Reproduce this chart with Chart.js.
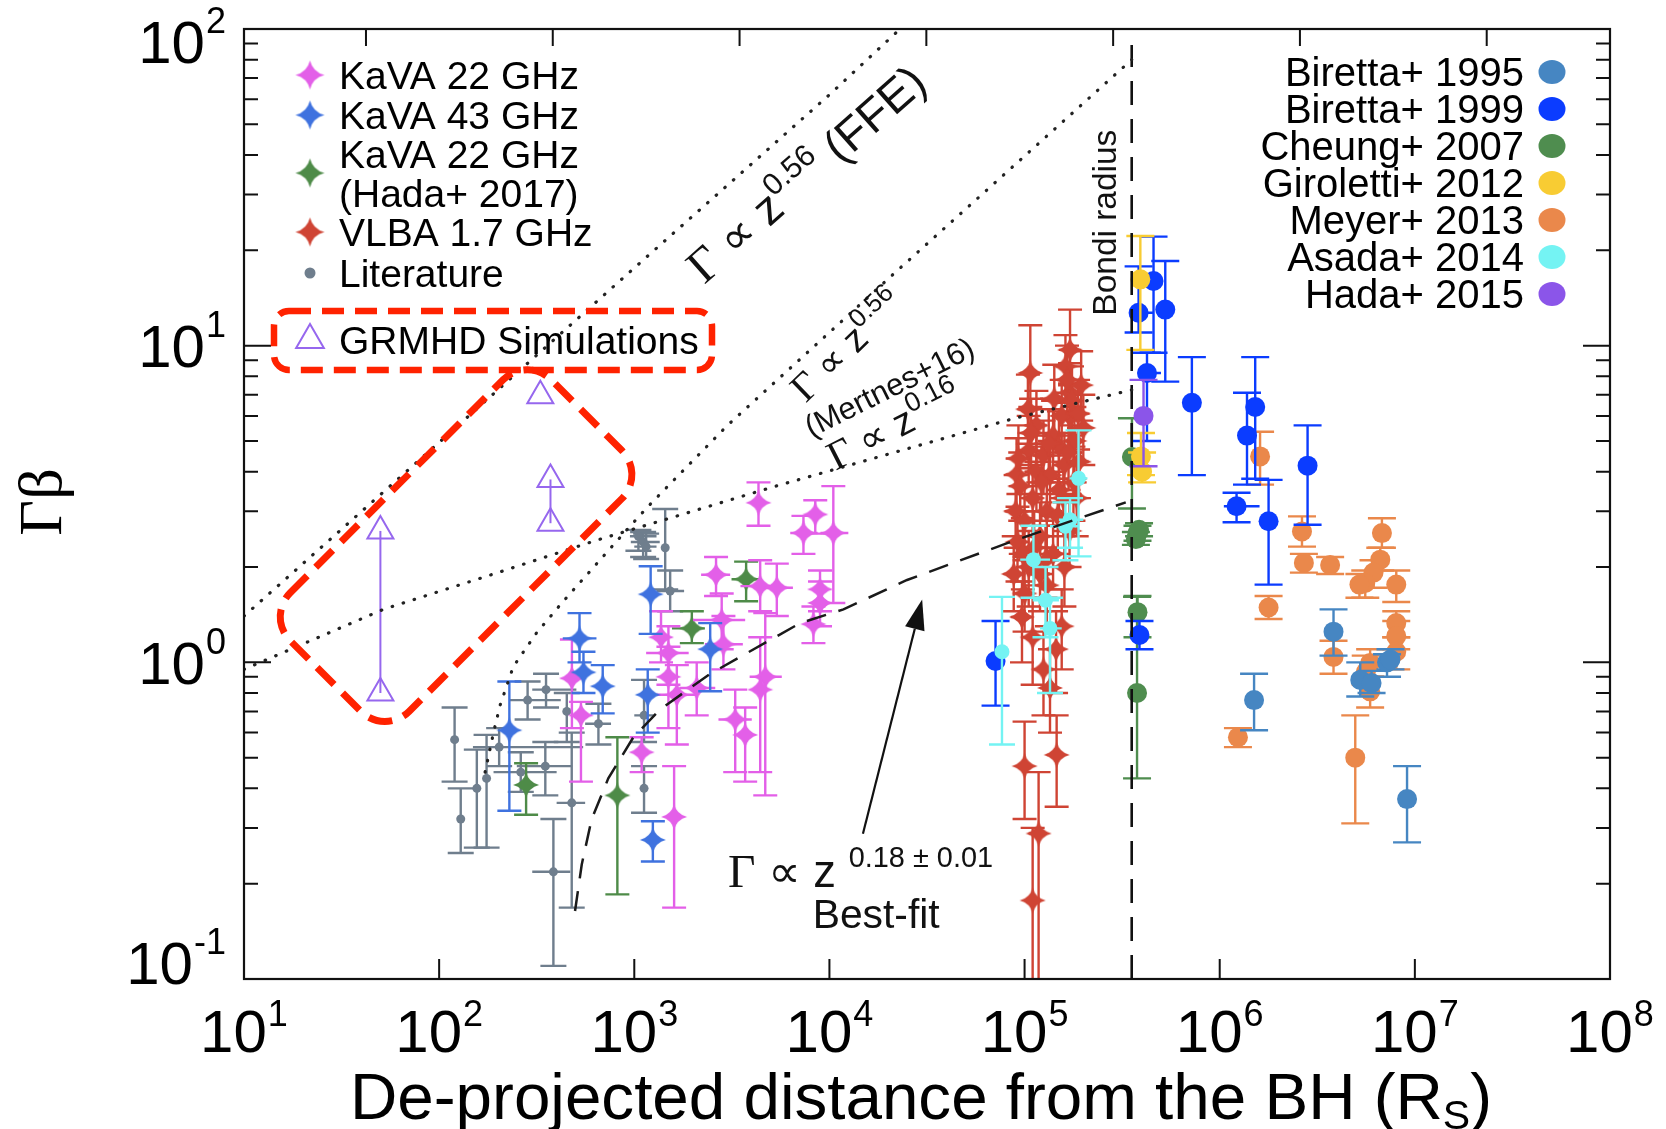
<!DOCTYPE html>
<html>
<head>
<meta charset="utf-8">
<title>Gamma-beta vs de-projected distance</title>
<script src="https://cdn.jsdelivr.net/npm/chart.js@4.4.1/dist/chart.umd.min.js"></script>
<style>
html,body{margin:0;padding:0;background:#ffffff;overflow:hidden;}
canvas{display:block;}
</style>
</head>
<body>
<canvas id="chart" width="1666" height="1129"></canvas>
<script>
// ---------------- tick labels ----------------
const xTickValues = [10, 100, 1e3, 1e4, 1e5, 1e6, 1e7, 1e8];
const xTickExps   = ['1', '2', '3', '4', '5', '6', '7', '8'];
const yTickValues = [0.1, 1, 10, 100];
const yTickExps   = ['-1', '0', '1', '2'];
const topTickValues = [10, 100, 1e3, 1e4, 1e5, 1e6, 1e7];

// ---------------- Literature (grey dots) ----------------
const litZ   = [120, 129, 156, 175, 203, 262, 284, 353, 350, 385, 451, 478, 655, 1050, 1110, 1150, 1440, 1527, 1122, 1122];
const litG   = [0.57, 0.32, 0.40, 0.43, 0.54, 0.45, 0.76, 0.82, 0.47, 0.218, 0.70, 0.36, 0.64, 2.50, 2.40, 2.32, 2.30, 1.68, 0.68, 0.40];
const litGlo = [0.42, 0.25, 0.26, 0.26, 0.47, 0.39, 0.66, 0.72, 0.38, 0.11, 0.56, 0.168, 0.55, 2.25, 2.15, 2.12, 1.70, 1.45, 0.56, 0.335];
const litGhi = [0.72, 0.40, 0.53, 0.59, 0.62, 0.52, 0.87, 0.92, 0.56, 0.32, 0.80, 0.60, 0.74, 2.62, 2.58, 2.55, 3.05, 1.95, 0.88, 0.47];
const litZlo = [120, 129, 156, 175, 149, 190, 230, 300, 250, 300, 451, 400, 560, 950, 960, 1000, 1440, 1300, 1000, 1122];
const litZhi = [120, 129, 156, 175, 547, 400, 420, 505, 480, 470, 451, 560, 760, 1300, 1350, 1300, 1440, 1800, 1260, 1122];

// ---------------- KaVA 43 GHz (blue stars) ----------------
const k43Z   = [229, 524, 549, 689, 1213, 1172, 1245, 2449];
const k43G   = [0.61, 1.19, 0.93, 0.84, 1.64, 0.79, 0.275, 1.10];
const k43Glo = [0.34, 1.00, 0.80, 0.69, 1.23, 0.60, 0.235, 0.81];
const k43Ghi = [0.87, 1.43, 1.08, 0.98, 2.01, 0.95, 0.315, 1.33];
const k43Zlo = [229, 430, 549, 689, 1213, 1172, 1245, 2449];
const k43Zhi = [229, 640, 549, 689, 1213, 1172, 1245, 2449];

// ---------------- KaVA 22 GHz, Hada+ 2017 (green stars) ----------------
const h17Z   = [279, 819, 1972, 3742];
const h17G   = [0.41, 0.38, 1.28, 1.83];
const h17Glo = [0.33, 0.185, 1.15, 1.56];
const h17Ghi = [0.48, 0.58, 1.45, 2.08];
const h17Zlo = [279, 819, 1560, 3150];
const h17Zhi = [279, 819, 2300, 4500];

// ---------------- KaVA 22 GHz (magenta stars) ----------------
const k22Z   = [479, 533, 1091, 1496, 1496, 1652, 1600, 2089, 2624, 2805, 2863, 3290, 3700, 4417, 5375, 4690, 4330, 8460, 7360, 10470, 8950, 8950, 8280, 4418, 1371];
const k22G   = [0.89, 0.68, 0.52, 1.07, 0.90, 0.79, 0.325, 0.83, 1.89, 1.36, 1.14, 0.66, 0.59, 1.74, 1.72, 0.90, 3.19, 2.93, 2.56, 2.56, 1.70, 1.54, 1.32, 0.82, 1.20];
const k22Glo = [0.62, 0.42, 0.45, 0.85, 0.62, 0.55, 0.168, 0.68, 1.62, 1.10, 0.95, 0.45, 0.42, 1.45, 1.40, 0.38, 2.70, 2.55, 2.20, 1.54, 1.45, 1.30, 1.15, 0.45, 1.00];
const k22Ghi = [1.18, 0.75, 0.58, 1.30, 1.12, 0.98, 0.47, 1.00, 2.15, 1.65, 1.40, 0.82, 0.72, 2.10, 2.05, 1.43, 3.70, 3.25, 2.90, 3.60, 1.95, 1.80, 1.50, 1.20, 1.45];
const k22Zlo = [479, 533, 1091, 1150, 1496, 1300, 1600, 1700, 2200, 2000, 2300, 2700, 3700, 3500, 4500, 3900, 4330, 8460, 6300, 9000, 8950, 8950, 8280, 4418, 1371];
const k22Zhi = [479, 533, 1091, 1900, 1496, 2100, 1600, 2600, 3100, 3700, 3600, 4000, 3700, 5500, 6500, 5700, 4330, 8460, 8700, 12500, 8950, 8950, 8280, 4418, 1371];

// ---------------- VLBA 1.7 GHz (red stars) ----------------
const vlbaZ   = [1.07e5, 1.71e5, 1.71e5, 1.05e5, 9.1e4, 1.71e5, 9.7e4, 1.0e5, 1.35e5, 1.46e5, 1.18e5, 1.1e5, 1.05e5, 1.2e5, 1.3e5, 1.5e5, 1.6e5, 1.8e5, 9.0e4, 9.5e4, 1.0e5, 1.1e5, 1.15e5, 1.25e5, 1.4e5, 1.55e5, 1.75e5, 1.95e5, 2.0e5, 1.9e5, 1.85e5, 1.7e5, 1.4e5, 1.2e5, 9.2e4, 8.8e4, 1.0e5, 1.3e5, 1.6e5, 1.55e5, 1.45e5, 1.1e5, 1.25e5, 1.62e5, 1.5e5, 1.04e5, 1.35e5, 1.15e5,
                 9.3e4, 1.08e5, 1.22e5, 1.33e5, 1.48e5, 1.58e5, 1.68e5, 1.78e5, 1.12e5, 1.28e5, 9.8e4, 1.42e5, 1.65e5, 1.88e5];
const vlbaG   = [8.2, 9.7, 7.1, 4.66, 3.92, 5.95, 1.39, 0.47, 0.83, 0.51, 0.288, 0.177, 2.0, 2.5, 3.0, 3.5, 4.2, 5.0, 3.0, 3.6, 2.8, 3.3, 4.0, 4.5, 5.2, 6.0, 6.7, 7.5, 5.5, 4.3, 3.3, 2.6, 2.2, 1.9, 2.4, 1.9, 1.65, 1.75, 2.0, 1.3, 1.1, 1.2, 0.95, 8.6, 4.8, 6.3, 3.9, 5.6,
                 4.4, 5.3, 3.7, 4.9, 2.9, 3.3, 4.6, 3.7, 2.3, 2.1, 2.2, 6.8, 7.8, 6.1];
const vlbaGlo = [6.4, 7.5, 5.6, 3.6, 3.0, 4.6, 1.0, 0.32, 0.6, 0.35, 0.08, 0.05, 1.5, 1.9, 2.3, 2.7, 3.2, 3.8, 2.3, 2.8, 2.1, 2.5, 3.0, 3.4, 4.0, 4.6, 5.2, 5.8, 4.2, 3.3, 2.5, 2.0, 1.7, 1.45, 1.8, 1.45, 1.25, 1.3, 1.5, 0.95, 0.8, 0.85, 0.68, 6.6, 3.7, 4.9, 3.0, 4.3,
                 3.4, 4.1, 2.8, 3.8, 2.2, 2.5, 3.5, 2.8, 1.75, 1.6, 1.7, 5.3, 6.0, 4.7];
const vlbaGhi = [11.6, 13.0, 8.8, 6.0, 5.1, 7.6, 1.8, 0.65, 1.1, 0.68, 0.45, 0.30, 2.6, 3.2, 3.8, 4.5, 5.3, 6.4, 3.9, 4.6, 3.6, 4.2, 5.2, 5.8, 6.7, 7.8, 8.6, 9.6, 7.0, 5.5, 4.3, 3.4, 2.9, 2.5, 3.1, 2.5, 2.15, 2.3, 2.6, 1.7, 1.45, 1.6, 1.25, 10.8, 6.2, 8.1, 5.0, 7.2,
                 5.6, 6.8, 4.8, 6.3, 3.8, 4.3, 5.9, 4.8, 3.0, 2.7, 2.85, 8.7, 10.0, 7.8];
const vlbaZlo = [9.5e4, 1.5e5, 1.45e5, 9.0e4, 8.0e4, 1.5e5, 8.5e4, 9.0e4, 1.2e5, 1.3e5, 1.05e5, 1.0e5, 9.0e4, 1.05e5, 1.15e5, 1.3e5, 1.4e5, 1.6e5, 8.0e4, 8.3e4, 8.8e4, 9.6e4, 1.0e5, 1.1e5, 1.25e5, 1.4e5, 1.6e5, 1.8e5, 1.8e5, 1.7e5, 1.65e5, 1.5e5, 1.2e5, 1.05e5, 8.2e4, 7.8e4, 8.8e4, 1.15e5, 1.4e5, 1.4e5, 1.3e5, 9.8e4, 1.1e5, 1.45e5, 1.3e5, 9.2e4, 1.2e5, 1.0e5,
                 8.0e4, 9.2e4, 1.02e5, 1.12e5, 1.25e5, 1.35e5, 1.42e5, 1.5e5, 9.4e4, 1.08e5, 8.3e4, 1.2e5, 1.4e5, 1.6e5];
const vlbaZhi = [1.2e5, 1.95e5, 2.0e5, 1.25e5, 1.05e5, 1.95e5, 1.1e5, 1.1e5, 1.5e5, 1.6e5, 1.3e5, 1.2e5, 1.2e5, 1.35e5, 1.45e5, 1.7e5, 1.8e5, 2.0e5, 1.0e5, 1.08e5, 1.12e5, 1.25e5, 1.3e5, 1.4e5, 1.55e5, 1.7e5, 1.9e5, 2.1e5, 2.1e5, 2.1e5, 2.05e5, 1.9e5, 1.6e5, 1.35e5, 1.05e5, 1.0e5, 1.12e5, 1.45e5, 1.8e5, 1.7e5, 1.6e5, 1.25e5, 1.4e5, 1.8e5, 1.7e5, 1.18e5, 1.5e5, 1.3e5,
                 1.08e5, 1.26e5, 1.45e5, 1.58e5, 1.75e5, 1.85e5, 1.98e5, 2.08e5, 1.33e5, 1.5e5, 1.15e5, 1.68e5, 1.95e5, 2.15e5];

// ---------------- Asada+ 2014 (cyan) ----------------
const asaZ   = [7.66e4, 1.11e5, 1.28e5, 1.35e5, 1.62e5, 1.71e5, 1.89e5];
const asaG   = [1.08, 2.11, 1.57, 1.28, 2.69, 2.82, 3.81];
const asaGlo = [0.55, 1.6, 1.2, 0.8, 2.1, 2.3, 2.16];
const asaGhi = [1.61, 2.7, 2.0, 1.6, 3.2, 3.3, 5.4];
const asaZlo = [7.66e4, 9.5e4, 1.1e5, 1.2e5, 1.35e5, 1.5e5, 1.7e5];
const asaZhi = [7.66e4, 1.35e5, 1.5e5, 1.55e5, 1.9e5, 2.0e5, 2.1e5];

// ---------------- Biretta+ 1999 (blue) ----------------
const b99Z   = [7.1e4, 4.58e5, 3.84e5, 5.26e5, 4.24e5, 7.2e5, 1.52e6, 1.38e6, 1.22e6, 1.78e6, 2.82e6, 3.88e5];
const b99G   = [1.01, 16.0, 12.7, 13.0, 8.2, 6.6, 6.4, 5.2, 3.11, 2.79, 4.18, 1.22];
const b99Glo = [0.73, 9.5, 11.0, 7.7, 5.0, 3.9, 3.8, 3.64, 2.77, 1.76, 2.72, 1.10];
const b99Ghi = [1.35, 22.1, 17.8, 18.5, 9.5, 9.2, 9.2, 7.1, 3.43, 3.77, 5.6, 1.35];
const b99Zlo = [7.1e4, 4.58e5, 3.5e5, 5.26e5, 3.9e5, 7.2e5, 1.52e6, 1.38e6, 1.05e6, 1.78e6, 2.82e6, 3.6e5];
const b99Zhi = [7.1e4, 4.58e5, 4.6e5, 5.26e5, 5.0e5, 7.2e5, 1.52e6, 1.38e6, 1.6e6, 1.78e6, 2.82e6, 4.3e5];

// ---------------- Biretta+ 1995 (steel blue) ----------------
const b95Z   = [1.5e6, 3.83e6, 5.25e6, 7.2e6, 9.12e6, 6.0e6, 7.5e6];
const b95G   = [0.76, 1.25, 0.88, 1.0, 0.37, 0.86, 1.02];
const b95Glo = [0.61, 1.05, 0.78, 0.90, 0.27, 0.80, 0.95];
const b95Ghi = [0.92, 1.47, 1.0, 1.06, 0.47, 0.94, 1.10];

// ---------------- Cheung+ 2007 (green) ----------------
const cheZ   = [3.79e5, 3.72e5, 3.86e5, 3.79e5, 3.77e5, 3.55e5];
const cheG   = [2.56, 2.45, 2.62, 1.44, 0.80, 4.45];
const cheGlo = [2.42, 2.35, 2.5, 1.2, 0.43, 3.06];
const cheGhi = [2.70, 2.58, 2.75, 1.62, 1.61, 5.9];

// ---------------- Giroletti+ 2012 (yellow) ----------------
const girZ   = [3.92e5, 3.95e5, 4.0e5];
const girG   = [16.2, 4.47, 4.0];
const girGlo = [9.7, 3.9, 3.7];
const girGhi = [22.2, 5.3, 4.6];

// ---------------- Meyer+ 2013 (orange) ----------------
const meyZ   = [1.61e6, 1.78e6, 2.64e6, 2.7e6, 3.68e6, 3.83e6, 1.24e6, 6.78e6, 6.65e6, 6.14e6, 5.57e6, 5.2e6, 8.03e6, 8.03e6, 8.03e6, 8.03e6, 5.9e6, 5.6e6, 5.9e6, 4.95e6];
const meyG   = [4.47, 1.49, 2.59, 2.06, 2.03, 1.04, 0.58, 2.56, 2.11, 1.92, 1.78, 1.76, 1.76, 1.33, 1.21, 1.08, 0.995, 0.93, 0.81, 0.50];
const meyGlo = [3.64, 1.37, 2.32, 1.92, 1.9, 0.92, 0.54, 2.3, 1.95, 1.72, 1.6, 1.6, 1.55, 1.2, 1.1, 0.95, 0.9, 0.85, 0.72, 0.31];
const meyGhi = [5.35, 1.62, 2.89, 2.2, 2.15, 1.17, 0.62, 2.85, 2.3, 2.1, 1.95, 1.9, 1.95, 1.45, 1.35, 1.2, 1.1, 1.05, 0.9, 0.68];

// ---------------- Hada+ 2015 (purple) ----------------
const h15Z   = [4.07e5];
const h15G   = [6.0];
const h15Glo = [4.16];
const h15Ghi = [7.8];

// ---------------- GRMHD simulations (open triangles) ----------------
const grmZ = [50, 50, 330, 372, 372];
const grmG = [2.6, 0.80, 6.95, 3.78, 2.75];
const grmLinkAZ = [50, 50];
const grmLinkAG = [0.80, 2.6];
const grmLinkBZ = [372, 372];
const grmLinkBG = [2.75, 3.78];

// ---------------- reference curves ----------------
const ffeZ = [10, 100, 1000, 10000, 23000];
const ffeG = [1.40, 4.95, 17.6, 62, 100];
const merZ = [172, 190, 205, 240, 316, 433, 951, 1178, 3000, 21200, 354000];
const merG = [0.45, 0.60, 0.73, 0.97, 1.24, 1.56, 2.69, 3.11, 5.6, 16.8, 80];
const p16Z = [10, 51.8, 200, 655, 5224, 24270, 89900, 354000];
const p16G = [0.95, 1.47, 1.92, 2.44, 3.59, 4.70, 5.91, 7.25];
const fitZ = [497, 538, 605, 736, 989, 1356, 2449, 7080, 11800, 25000, 89500, 330000];
const fitG = [0.164, 0.23, 0.32, 0.43, 0.58, 0.71, 0.92, 1.33, 1.47, 1.82, 2.43, 3.2];
const bondiZ = [354000, 354000];
const bondiG = [0.1, 89];

// ---------------- styling ----------------
const C = {
  mag: '#e35fe8', blu43: '#3f72df', grn17: '#4e8b48', red: '#cf4434', gray: '#6f7e8d', purp: '#9667ee',
  b95: '#4686c2', b99: '#0b3cff', che: '#4f8d4f', gir: '#f8cc33', mey: '#ea884b', asa: '#74f3f3', h15: '#8b55e9',
  box: '#ff2200'
};
const SANS = '"Liberation Sans", Arial, Helvetica, "DejaVu Sans", sans-serif';
const SERIF = '"Liberation Serif", "Times New Roman", "DejaVu Serif", serif';

function starCanvas(color, R) {
  const s = Math.ceil(R * 2 + 4);
  const c = document.createElement('canvas');
  c.width = s; c.height = s;
  const g = c.getContext('2d');
  const cx = s / 2, cy = s / 2, k = R * 0.2;
  g.fillStyle = color;
  g.beginPath();
  g.moveTo(cx, cy - R);
  g.quadraticCurveTo(cx + k, cy - k, cx + R, cy);
  g.quadraticCurveTo(cx + k, cy + k, cx, cy + R);
  g.quadraticCurveTo(cx - k, cy + k, cx - R, cy);
  g.quadraticCurveTo(cx - k, cy - k, cx, cy - R);
  g.closePath();
  g.fill();
  return c;
}
const STAR = {
  mag: starCanvas(C.mag, 13), blu43: starCanvas(C.blu43, 13), grn17: starCanvas(C.grn17, 13), red: starCanvas(C.red, 13)
};
const LSTAR = {
  mag: starCanvas(C.mag, 14.5), blu43: starCanvas(C.blu43, 14.5), grn17: starCanvas(C.grn17, 14.5), red: starCanvas(C.red, 14.5)
};

function pts(z, g, glo, ghi, zlo, zhi) {
  return z.map((v, i) => ({
    x: v, y: g[i],
    yMin: glo ? glo[i] : undefined, yMax: ghi ? ghi[i] : undefined,
    xMin: zlo ? zlo[i] : undefined, xMax: zhi ? zhi[i] : undefined
  }));
}
function curve(z, g) { return z.map((v, i) => ({ x: v, y: g[i] })); }

function starSet(label, data, key, order) {
  return { label, data, pointStyle: STAR[key], pointRadius: 13, showLine: false, order,
           err: { color: C[key], cap: 12, w: 2.4 } };
}
function dotSet(label, data, color, r, order, cap) {
  return { label, data, pointStyle: 'circle', pointRadius: r, pointBackgroundColor: color, pointBorderWidth: 0,
           showLine: false, order, err: { color, cap: cap || 14, w: 2.4 } };
}
function lineSet(label, data, color, width, dash, cap, order) {
  return { label, data, showLine: true, borderColor: color, borderWidth: width, borderDash: dash,
           borderCapStyle: cap, pointRadius: 0, fill: false, tension: 0, order };
}

const datasets = [
  lineSet('FFE', curve(ffeZ, ffeG), '#222222', 3.2, [0.5, 11], 'round', -1),
  lineSet('Mertens+16', curve(merZ, merG), '#222222', 3.2, [0.5, 11], 'round', -1),
  lineSet('z^0.16', curve(p16Z, p16G), '#222222', 3.2, [0.5, 11], 'round', -1),
  lineSet('Best-fit', curve(fitZ, fitG), '#1a1a1a', 2.5, [20, 13], 'butt', -1),
  lineSet('Bondi radius', curve(bondiZ, bondiG), '#111111', 2.6, [24, 14], 'butt', -1),
  lineSet('GRMHD link A', curve(grmLinkAZ, grmLinkAG), C.purp, 2, [], 'butt', 14),
  lineSet('GRMHD link B', curve(grmLinkBZ, grmLinkBG), C.purp, 2, [], 'butt', 14),
  { label: 'GRMHD Simulations', data: curve(grmZ, grmG), pointStyle: 'triangle', pointRadius: 15,
    pointBackgroundColor: 'rgba(0,0,0,0)', pointBorderColor: C.purp, pointBorderWidth: 2, showLine: false, order: 13 },
  dotSet('Asada+ 2014', pts(asaZ, asaG, asaGlo, asaGhi, asaZlo, asaZhi), C.asa, 7.5, 1, 13),
  dotSet('Hada+ 2015', pts(h15Z, h15G, h15Glo, h15Ghi), C.h15, 10, 2),
  dotSet('Giroletti+ 2012', pts(girZ, girG, girGlo, girGhi), C.gir, 10, 3),
  dotSet('Biretta+ 1999', pts(b99Z, b99G, b99Glo, b99Ghi, b99Zlo, b99Zhi), C.b99, 10, 4),
  dotSet('Cheung+ 2007', pts(cheZ, cheG, cheGlo, cheGhi), C.che, 10, 5),
  dotSet('Biretta+ 1995', pts(b95Z, b95G, b95Glo, b95Ghi), C.b95, 10, 6),
  dotSet('Meyer+ 2013', pts(meyZ, meyG, meyGlo, meyGhi), C.mey, 10, 7),
  starSet('VLBA 1.7 GHz', pts(vlbaZ, vlbaG, vlbaGlo, vlbaGhi, vlbaZlo, vlbaZhi), 'red', 8),
  starSet('KaVA 43 GHz', pts(k43Z, k43G, k43Glo, k43Ghi, k43Zlo, k43Zhi), 'blu43', 9),
  starSet('KaVA 22 GHz', pts(k22Z, k22G, k22Glo, k22Ghi, k22Zlo, k22Zhi), 'mag', 10),
  starSet('KaVA 22 GHz (Hada+ 2017)', pts(h17Z, h17G, h17Glo, h17Ghi, h17Zlo, h17Zhi), 'grn17', 11),
  dotSet('Literature', pts(litZ, litG, litGlo, litGhi, litZlo, litZhi), C.gray, 4.5, 12, 13)
];

// ---------------- error bars ----------------
const errorBarPlugin = {
  id: 'errorBars',
  beforeDatasetDraw(chart, args) {
    const ds = chart.data.datasets[args.index];
    if (!ds.err) return;
    const { ctx, chartArea: a } = chart;
    const xs = chart.scales.x, ys = chart.scales.y;
    ctx.save();
    ctx.beginPath();
    ctx.rect(a.left, a.top, a.right - a.left, a.bottom - a.top);
    ctx.clip();
    ctx.strokeStyle = ds.err.color;
    ctx.lineWidth = ds.err.w;
    const cap = ds.err.cap;
    ds.data.forEach(p => {
      const px = xs.getPixelForValue(p.x), py = ys.getPixelForValue(p.y);
      ctx.beginPath();
      if (p.yMin !== undefined && p.yMax !== undefined && p.yMin !== p.yMax) {
        const y1 = ys.getPixelForValue(p.yMin), y2 = ys.getPixelForValue(p.yMax);
        ctx.moveTo(px, y1); ctx.lineTo(px, y2);
        ctx.moveTo(px - cap, y1); ctx.lineTo(px + cap, y1);
        ctx.moveTo(px - cap, y2); ctx.lineTo(px + cap, y2);
      }
      if (p.xMin !== undefined && p.xMax !== undefined && p.xMin !== p.xMax) {
        const x1 = xs.getPixelForValue(p.xMin), x2 = xs.getPixelForValue(p.xMax);
        ctx.moveTo(x1, py); ctx.lineTo(x2, py);
      }
      ctx.stroke();
    });
    ctx.restore();
  }
};

// ---------------- annotations (anchored in data space) ----------------
const notes = {
  ffe:    { z: 7597,  g: 34.9, angle: -41.5, width: 300 },
  mer:    { z: 12320, g: 10.0, angle: -44,   width: 140 },
  merRef: { z: 20230, g: 7.42, angle: -26.5, width: 185 },
  p16:    { z: 21460, g: 5.59, angle: -27,   width: 145 },
  fit:    { z: 3026,  g: 0.1957, width: 265 },
  fitLbl: { z: 17360, g: 0.1453, width: 127 },
  bondi:  { z: 257300, g: 24.46, width: 186 },
  arrowFrom: { z: 14850, g: 0.2877 },
  arrowTo:   { z: 29870, g: 1.578 },
  simBox: { z: 122.1, g: 2.336, w: 369, h: 168, r: 34, angle: -45 }
};

function richWidth(ctx, segs) {
  let w = 0;
  for (const s of segs) { ctx.font = s.f; w += ctx.measureText(s.t).width; }
  return w;
}
function drawRich(ctx, segs, x, y, angle, align, target, baseShift) {
  ctx.save();
  ctx.translate(x, y);
  ctx.rotate(angle * Math.PI / 180);
  const w = richWidth(ctx, segs);
  const k = target ? target / w : 1;
  ctx.scale(k, k);
  let cx = align === 'center' ? -w / 2 : (align === 'right' ? -w : 0);
  ctx.textAlign = 'left';
  ctx.textBaseline = 'alphabetic';
  for (const s of segs) {
    ctx.font = s.f;
    ctx.fillText(s.t, cx, (s.dy || 0) + (baseShift || 0));
    cx += ctx.measureText(s.t).width;
  }
  ctx.restore();
}
function roundRectPath(ctx, x, y, w, h, r) {
  ctx.beginPath();
  ctx.moveTo(x + r, y);
  ctx.lineTo(x + w - r, y);
  ctx.arcTo(x + w, y, x + w, y + r, r);
  ctx.lineTo(x + w, y + h - r);
  ctx.arcTo(x + w, y + h, x + w - r, y + h, r);
  ctx.lineTo(x + r, y + h);
  ctx.arcTo(x, y + h, x, y + h - r, r);
  ctx.lineTo(x, y + r);
  ctx.arcTo(x, y, x + r, y, r);
  ctx.closePath();
}
function drawPow(ctx, exp, x, baseY, supY, align) {
  ctx.font = '60px ' + SANS;
  const w1 = ctx.measureText('10').width;
  ctx.font = '36px ' + SANS;
  const w2 = ctx.measureText(exp).width;
  const total = w1 + w2 + 1;
  const sx = align === 'center' ? x - total / 2 : x - total;
  ctx.textAlign = 'left';
  ctx.textBaseline = 'alphabetic';
  ctx.font = '60px ' + SANS;
  ctx.fillText('10', sx, baseY);
  ctx.font = '36px ' + SANS;
  ctx.fillText(exp, sx + w1 + 1, supY);
}

const leftLegend = [
  { mk: 'mag', y: 75, lines: ['KaVA 22 GHz'] },
  { mk: 'blu43', y: 115, lines: ['KaVA 43 GHz'] },
  { mk: 'grn17', y: 173, lines: ['KaVA 22 GHz', '(Hada+ 2017)'], lineY: [154, 193] },
  { mk: 'red', y: 232, lines: ['VLBA 1.7 GHz'] },
  { mk: 'lit', y: 273, lines: ['Literature'] },
  { mk: 'tri', y: 340, lines: ['GRMHD Simulations'] }
];
const rightLegend = [
  { c: C.b95, y: 72, t: 'Biretta+ 1995' },
  { c: C.b99, y: 109, t: 'Biretta+ 1999' },
  { c: C.che, y: 146, t: 'Cheung+ 2007' },
  { c: C.gir, y: 183, t: 'Giroletti+ 2012' },
  { c: C.mey, y: 220, t: 'Meyer+ 2013' },
  { c: C.asa, y: 257, t: 'Asada+ 2014' },
  { c: C.h15, y: 294, t: 'Hada+ 2015' }
];

const decoPlugin = {
  id: 'deco',
  afterDraw(chart) {
    const { ctx, chartArea: a } = chart;
    const xs = chart.scales.x, ys = chart.scales.y, xt = chart.scales.xTop;
    const P = (z, g) => [xs.getPixelForValue(z), ys.getPixelForValue(g)];
    ctx.save();
    ctx.fillStyle = '#000';
    ctx.strokeStyle = '#111';

    // frame
    ctx.lineWidth = 2.2;
    ctx.strokeRect(a.left, a.top, a.right - a.left, a.bottom - a.top);

    // y ticks (left & right), majors and minors
    ctx.lineWidth = 2;
    ctx.beginPath();
    for (let e = -1; e <= 1; e++) {
      for (let m = 1; m <= 9; m++) {
        const v = m * Math.pow(10, e);
        const py = ys.getPixelForValue(v);
        const len = m === 1 ? 27 : 14;
        ctx.moveTo(a.left, py); ctx.lineTo(a.left + len, py);
        ctx.moveTo(a.right, py); ctx.lineTo(a.right - len, py);
      }
    }
    // bottom majors
    xTickValues.forEach(v => {
      const px = xs.getPixelForValue(v);
      if (px <= a.left + 1 || px >= a.right - 1) return;
      ctx.moveTo(px, a.bottom); ctx.lineTo(px, a.bottom - 20);
    });
    // top majors (top axis is offset)
    topTickValues.forEach(v => {
      const px = xt.getPixelForValue(v);
      if (px <= a.left + 1 || px >= a.right - 1) return;
      ctx.moveTo(px, a.top); ctx.lineTo(px, a.top + 17);
    });
    ctx.stroke();

    // tick labels
    ctx.fillStyle = '#000';
    yTickValues.forEach((v, i) => {
      let cy = ys.getPixelForValue(v);
      cy = Math.min(Math.max(cy, a.top + 12), a.bottom - 17);
      drawPow(ctx, yTickExps[i], a.left - 18, cy + 21.5, cy - 8.5, 'right');
    });
    xTickValues.forEach((v, i) => {
      const cx = xs.getPixelForValue(v);
      drawPow(ctx, xTickExps[i], cx, a.bottom + 73, a.bottom + 47, 'center');
    });

    // axis titles
    const tSegs = [
      { t: 'De-projected distance from the BH (R', f: '64px ' + SANS },
      { t: 'S', f: '40px ' + SANS, dy: 10 },
      { t: ')', f: '64px ' + SANS }
    ];
    drawRich(ctx, tSegs, (a.left + a.right) / 2 - 6, 1119, 0, 'center', 1142);
    ctx.save();
    ctx.translate(45, 502);
    ctx.rotate(-Math.PI / 2);
    ctx.font = '62px ' + SERIF;
    ctx.textAlign = 'center';
    ctx.textBaseline = 'middle';
    ctx.fillText('Γβ', 0, 0);
    ctx.restore();

    // left legend
    ctx.textAlign = 'left';
    ctx.textBaseline = 'alphabetic';
    leftLegend.forEach(it => {
      const mx = 310;
      if (LSTAR[it.mk]) {
        const im = LSTAR[it.mk];
        ctx.drawImage(im, mx - im.width / 2, it.y - im.height / 2);
      } else if (it.mk === 'lit') {
        ctx.fillStyle = C.gray;
        ctx.beginPath(); ctx.arc(mx, it.y, 5.5, 0, Math.PI * 2); ctx.fill();
      } else if (it.mk === 'tri') {
        ctx.strokeStyle = C.purp; ctx.lineWidth = 2;
        const r = 16;
        ctx.beginPath();
        ctx.moveTo(mx, it.y - r);
        ctx.lineTo(mx + r * Math.sin(2 * Math.PI / 3), it.y - r * Math.cos(2 * Math.PI / 3));
        ctx.lineTo(mx + r * Math.sin(4 * Math.PI / 3), it.y - r * Math.cos(4 * Math.PI / 3));
        ctx.closePath(); ctx.stroke();
      }
      ctx.fillStyle = '#000';
      ctx.font = '39px ' + SANS;
      it.lines.forEach((t, k) => {
        const ly = it.lineY ? it.lineY[k] : it.y;
        ctx.fillText(t, 339, ly + 14);
      });
    });

    // right legend
    ctx.textAlign = 'right';
    rightLegend.forEach(it => {
      ctx.fillStyle = '#000';
      ctx.font = '40px ' + SANS;
      ctx.fillText(it.t, 1524, it.y + 14);
      ctx.fillStyle = it.c;
      ctx.beginPath(); ctx.ellipse(1552, it.y, 13.5, 12, 0, 0, Math.PI * 2); ctx.fill();
    });

    // red dashed boxes
    ctx.strokeStyle = C.box;
    ctx.lineWidth = 6.5;
    ctx.setLineDash([22, 11]);
    roundRectPath(ctx, 274, 311, 438, 59, 15);
    ctx.stroke();
    const sb = notes.simBox;
    const [bx, by] = P(sb.z, sb.g);
    ctx.save();
    ctx.translate(bx, by);
    ctx.rotate(sb.angle * Math.PI / 180);
    ctx.setLineDash([24, 12]);
    ctx.lineWidth = 7;
    roundRectPath(ctx, -sb.w / 2, -sb.h / 2, sb.w, sb.h, sb.r);
    ctx.stroke();
    ctx.restore();
    ctx.setLineDash([]);

    // curve labels
    ctx.fillStyle = '#111';
    let q = P(notes.ffe.z, notes.ffe.g);
    drawRich(ctx, [
      { t: 'Γ', f: '46px ' + SERIF }, { t: ' ∝ z', f: '44px ' + SANS },
      { t: '0.56', f: '29px ' + SANS, dy: -19 }, { t: ' (FFE)', f: '44px ' + SANS }
    ], q[0], q[1], notes.ffe.angle, 'center', notes.ffe.width, 15);
    q = P(notes.mer.z, notes.mer.g);
    drawRich(ctx, [
      { t: 'Γ', f: '40px ' + SERIF }, { t: ' ∝ z', f: '38px ' + SANS },
      { t: '0.56', f: '26px ' + SANS, dy: -17 }
    ], q[0], q[1], notes.mer.angle, 'center', notes.mer.width, 13);
    q = P(notes.merRef.z, notes.merRef.g);
    drawRich(ctx, [{ t: '(Mertnes+16)', f: '31px ' + SANS }], q[0], q[1], notes.merRef.angle, 'center', notes.merRef.width, 11);
    q = P(notes.p16.z, notes.p16.g);
    drawRich(ctx, [
      { t: 'Γ', f: '42px ' + SERIF }, { t: ' ∝ z', f: '40px ' + SANS },
      { t: '0.16', f: '28px ' + SANS, dy: -18 }
    ], q[0], q[1], notes.p16.angle, 'center', notes.p16.width, 14);
    q = P(notes.fit.z, notes.fit.g);
    drawRich(ctx, [
      { t: 'Γ', f: '46px ' + SERIF }, { t: ' ∝ z ', f: '44px ' + SANS },
      { t: '0.18 ± 0.01', f: '28px ' + SANS, dy: -19 }
    ], q[0], q[1], 0, 'left', notes.fit.width, 0);
    q = P(notes.fitLbl.z, notes.fitLbl.g);
    drawRich(ctx, [{ t: 'Best-fit', f: '38px ' + SANS }], q[0], q[1], 0, 'center', notes.fitLbl.width, 0);
    q = P(notes.bondi.z, notes.bondi.g);
    drawRich(ctx, [{ t: 'Bondi radius', f: '34px ' + SANS }], q[0], q[1], -90, 'center', notes.bondi.width, 12);

    // arrow to best-fit line
    const [ax0, ay0] = P(notes.arrowFrom.z, notes.arrowFrom.g);
    const [ax1, ay1] = P(notes.arrowTo.z, notes.arrowTo.g);
    const ang = Math.atan2(ay1 - ay0, ax1 - ax0);
    const hl = 30, hw = 10;
    const bxp = ax1 - hl * Math.cos(ang), byp = ay1 - hl * Math.sin(ang);
    ctx.strokeStyle = '#111'; ctx.lineWidth = 2.2;
    ctx.beginPath(); ctx.moveTo(ax0, ay0); ctx.lineTo(bxp, byp); ctx.stroke();
    ctx.fillStyle = '#111';
    ctx.beginPath();
    ctx.moveTo(ax1, ay1);
    ctx.lineTo(bxp + hw * Math.sin(ang), byp - hw * Math.cos(ang));
    ctx.lineTo(bxp - hw * Math.sin(ang), byp + hw * Math.cos(ang));
    ctx.closePath(); ctx.fill();

    ctx.restore();
  }
};

new Chart(document.getElementById('chart'), {
  type: 'scatter',
  data: { datasets },
  options: {
    responsive: false,
    animation: false,
    devicePixelRatio: 1,
    events: [],
    layout: { padding: { left: 244, right: 56, top: 29, bottom: 150 } },
    plugins: { legend: { display: false }, tooltip: { enabled: false } },
    scales: {
      x: { type: 'logarithmic', min: 10, max: 1e8, display: false },
      y: { type: 'logarithmic', min: 0.1, max: 100, display: false },
      xTop: { type: 'logarithmic', axis: 'x', position: 'top', min: Math.pow(10, 0.347), max: Math.pow(10, 7.66), display: false }
    }
  },
  plugins: [errorBarPlugin, decoPlugin]
});
</script>
</body>
</html>
